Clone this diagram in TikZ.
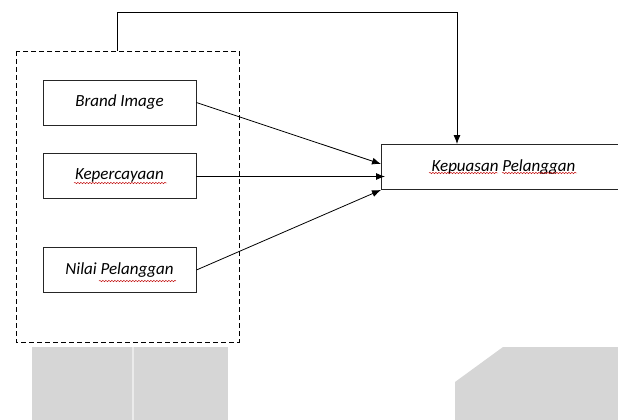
\documentclass[tikz,border=0pt]{standalone}
\usepackage{fontspec}
\setmainfont{Carlito}
\usetikzlibrary{arrows.meta,decorations.pathmorphing}
\begin{document}
\begin{tikzpicture}[x=1pt,y=-1pt,
  varbox/.style={draw=black!85,line width=0.9pt,minimum width=153pt,minimum height=45pt,inner sep=0pt,font=\fontsize{17}{19}\selectfont\itshape},
  conn/.style={line width=0.8pt,-{Latex[length=9pt,width=7pt]}},
  squig/.style={red!75!black,line width=0.45pt,decorate,decoration={snake,segment length=3pt,amplitude=0.7pt}},
  wm/.style={fill=black!16,draw=none}]
\useasboundingbox (0,0) rectangle (618,420);
% watermark shapes
\fill[wm] (32,347) rectangle (228,420);
\draw[white!92!black,line width=1.5pt] (133,347) -- (133,420);
\fill[wm] (455,382) -- (503,347) -- (618,347) -- (618,420) -- (455,420) -- cycle;
% dashed group
\draw[dash pattern=on 5pt off 3pt,line width=0.8pt] (16,51) rectangle (239,342);
\coordinate (gtop) at (117,51);
% nodes
\node[varbox] (bi) at (119.5,102.5) {Brand Image};
\node[varbox] (kp) at (119.5,175.5) {Kepercayaan};
\node[varbox] (np) at (119.5,270) {Nilai Pelanggan};
\node[varbox,minimum width=244pt,anchor=west] (ks) at (381,167) {Kepuasan Pelanggan};
\coordinate (kin) at (385,176.5);
% squiggles
\draw[squig] (74,183) -- (167,183);
\draw[squig] (99,281) -- (176,281);
\draw[squig] (429,173) -- (498,173);
\draw[squig] (502,173) -- (577,173);
% connectors
\draw[conn] (gtop) |- (457,12) -- (457,144);
\draw[conn] (bi.east) -- (ks.west |- 0,164);
\draw[conn] (kp.east |- kin) -- (kin);
\draw[conn] (np.east) -- (ks.south west);
\end{tikzpicture}
\end{document}
